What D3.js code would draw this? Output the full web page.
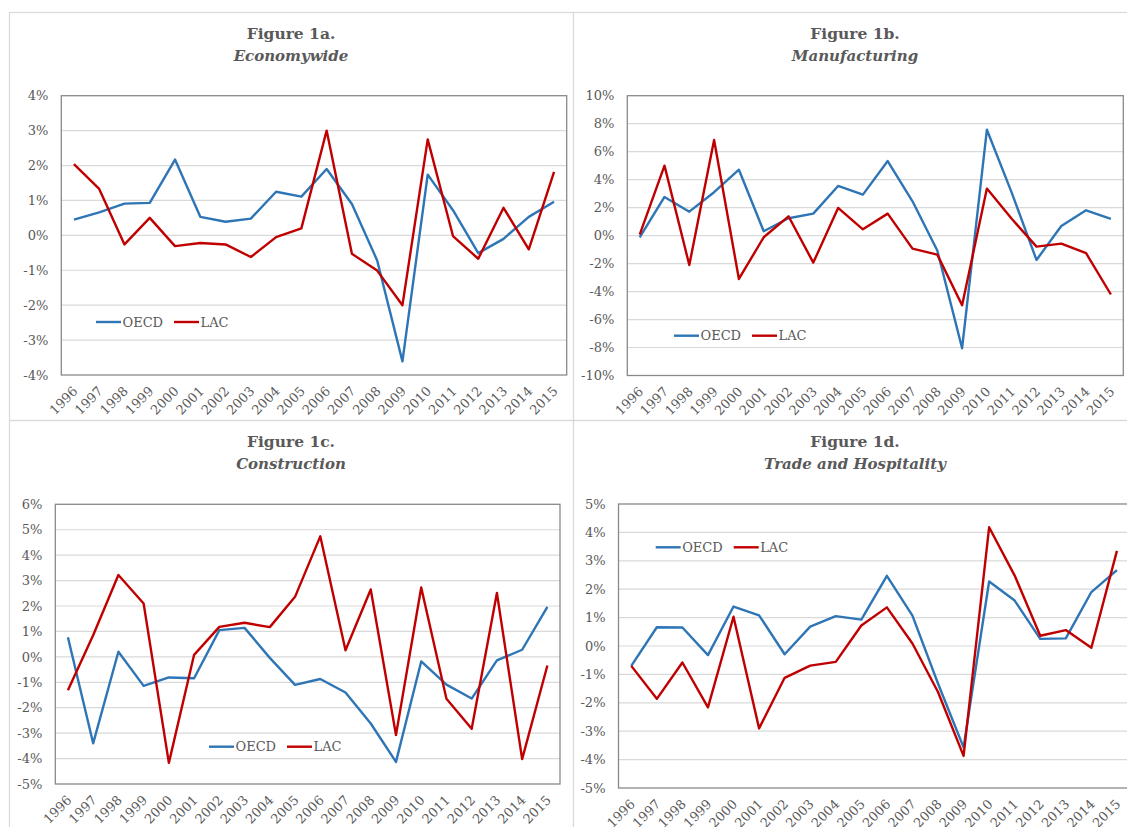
<!DOCTYPE html>
<html>
<head>
<meta charset="utf-8">
<script src="https://cdn.jsdelivr.net/npm/d3@7"></script>
<style>
  html, body { margin: 0; padding: 0; background: #fff; }
  svg { display: block; }
  text { font-family: "DejaVu Serif", "Liberation Serif", serif; fill: #595959; }
</style>
</head>
<body>
<svg id="chart" width="1127" height="827"></svg>
<script>
// Annual labour productivity growth, %, OECD vs LAC
const years = ["1996","1997","1998","1999","2000","2001","2002","2003","2004","2005",
               "2006","2007","2008","2009","2010","2011","2012","2013","2014","2015"];

const econOECD = [0.45, 0.66, 0.91, 0.93, 2.17, 0.53, 0.39, 0.48, 1.25, 1.11,
                  1.90, 0.90, -0.72, -3.61, 1.74, 0.72, -0.51, -0.10, 0.53, 0.96];
const econLAC  = [2.04, 1.33, -0.26, 0.50, -0.31, -0.22, -0.26, -0.62, -0.05, 0.20,
                  3.00, -0.53, -1.01, -2.00, 2.75, -0.02, -0.67, 0.79, -0.40, 1.82];

const manufOECD = [-0.12, 2.76, 1.71, 3.10, 4.71, 0.31, 1.24, 1.57, 3.55, 2.93,
                   5.33, 2.45, -1.07, -8.05, 7.57, 3.07, -1.74, 0.69, 1.81, 1.19];
const manufLAC  = [0.07, 5.00, -2.10, 6.83, -3.10, -0.12, 1.38, -1.93, 1.98, 0.45,
                   1.57, -0.93, -1.36, -4.98, 3.36, 1.20, -0.79, -0.57, -1.26, -4.21];

const constOECD = [0.77, -3.40, 0.20, -1.14, -0.81, -0.84, 1.05, 1.14, -0.04, -1.10,
                   -0.87, -1.40, -2.62, -4.13, -0.18, -1.09, -1.64, -0.14, 0.28, 1.97];
const constLAC  = [-1.31, 0.85, 3.22, 2.10, -4.17, 0.08, 1.18, 1.34, 1.17, 2.36,
                   4.74, 0.26, 2.65, -3.07, 2.73, -1.65, -2.83, 2.51, -4.02, -0.34];

const tradeOECD = [-0.70, 0.66, 0.65, -0.32, 1.39, 1.08, -0.29, 0.68, 1.05, 0.93,
                   2.47, 1.07, -1.32, -3.57, 2.27, 1.60, 0.25, 0.27, 1.90, 2.67];
const tradeLAC  = [-0.70, -1.86, -0.58, -2.16, 1.03, -2.90, -1.12, -0.69, -0.56, 0.72,
                   1.36, 0.09, -1.62, -3.87, 4.18, 2.48, 0.36, 0.56, -0.06, 3.35];

// y-axis tick values (%) for each panel
const ticksA = [-4, -3, -2, -1, 0, 1, 2, 3, 4];
const ticksB = [-10, -8, -6, -4, -2, 0, 2, 4, 6, 8, 10];
const ticksC = [-5, -4, -3, -2, -1, 0, 1, 2, 3, 4, 5, 6];
const ticksD = [-5, -4, -3, -2, -1, 0, 1, 2, 3, 4, 5];

const seriesNames = ["OECD", "LAC"];
const seriesColors = ["#2e75b6", "#c00000"];

const panels = [
  { title: "Figure 1a.", subtitle: "Economywide", data: [econOECD, econLAC], ticks: ticksA,
    frame: [9.5, 12.5], plot: { l: 61.3, r: 566.7, t: 95.7, b: 375 }, legend: [96, 322] },
  { title: "Figure 1b.", subtitle: "Manufacturing", data: [manufOECD, manufLAC], ticks: ticksB,
    frame: [573.5, 12.5], plot: { l: 627.3, r: 1123.3, t: 95.7, b: 375.5 }, legend: [674, 335.7] },
  { title: "Figure 1c.", subtitle: "Construction", data: [constOECD, constLAC], ticks: ticksC,
    frame: [9.5, 420.5], plot: { l: 55.3, r: 560, t: 504.3, b: 784 }, legend: [209, 746.7] },
  { title: "Figure 1d.", subtitle: "Trade and Hospitality", data: [tradeOECD, tradeLAC], ticks: ticksD,
    frame: [573.5, 420.5], plot: { l: 618.5, r: 1129.7, t: 504, b: 788 }, legend: [655.7, 547.3] }
];

const svg = d3.select("#chart");
const frameW = 564, frameH = 408;

panels.forEach(p => {
  const g = svg.append("g");

  // chart frame
  g.append("rect")
    .attr("x", p.frame[0]).attr("y", p.frame[1])
    .attr("width", frameW).attr("height", frameH)
    .attr("fill", "none").attr("stroke", "#d9d9d9").attr("stroke-width", 1.2);

  const cx = p.frame[0] + frameW / 2 - 0.5;
  g.append("text")
    .attr("x", cx).attr("y", p.frame[1] + 26)
    .attr("text-anchor", "middle")
    .style("font-size", "15.5px").style("font-weight", "bold")
    .text(p.title);
  g.append("text")
    .attr("x", cx).attr("y", p.frame[1] + 48.5)
    .attr("text-anchor", "middle")
    .style("font-size", "15px").style("font-weight", "bold").style("font-style", "italic")
    .text(p.subtitle);

  const x = d3.scalePoint().domain(years).range([p.plot.l, p.plot.r]).padding(0.5);
  const y = d3.scaleLinear()
    .domain([d3.min(p.ticks), d3.max(p.ticks)])
    .range([p.plot.b, p.plot.t]);

  // horizontal gridlines
  g.append("g").selectAll("line")
    .data(p.ticks.slice(1, -1))
    .join("line")
    .attr("x1", p.plot.l).attr("x2", p.plot.r)
    .attr("y1", d => y(d)).attr("y2", d => y(d))
    .attr("stroke", "#d9d9d9").attr("stroke-width", 1.2);

  // y axis labels
  const yAxis = d3.axisLeft(y)
    .tickValues(p.ticks)
    .tickFormat(d => `${d}%`)
    .tickSize(0).tickPadding(13);
  const ya = g.append("g")
    .attr("transform", `translate(${p.plot.l},0)`)
    .call(yAxis);
  ya.select(".domain").remove();
  ya.selectAll("text")
    .style("font-family", "'DejaVu Serif', serif")
    .style("font-size", "13px").attr("fill", "#595959");

  // x axis labels, slanted
  const xAxis = d3.axisBottom(x).tickSize(0).tickPadding(0);
  const xa = g.append("g")
    .attr("transform", `translate(0,${p.plot.b})`)
    .call(xAxis);
  xa.select(".domain").remove();
  xa.selectAll("text")
    .attr("y", 0).attr("dy", 0)
    .attr("text-anchor", "end")
    .attr("transform", "translate(4,17) rotate(-45)")
    .style("font-family", "'DejaVu Serif', serif")
    .style("font-size", "13px").attr("fill", "#595959");

  // plot area border
  g.append("rect")
    .attr("x", p.plot.l).attr("y", p.plot.t)
    .attr("width", p.plot.r - p.plot.l).attr("height", p.plot.b - p.plot.t)
    .attr("fill", "none").attr("stroke", "#898989").attr("stroke-width", 1.3);

  // series lines
  const line = d3.line()
    .x((d, i) => x(years[i]))
    .y(d => y(d));
  p.data.forEach((vals, k) => {
    g.append("path")
      .datum(vals)
      .attr("d", line)
      .attr("fill", "none")
      .attr("stroke", seriesColors[k])
      .attr("stroke-width", 2.4)
      .attr("stroke-linejoin", "round");
  });

  // legend
  const lg = g.append("g").attr("transform", `translate(${p.legend[0]},${p.legend[1]})`);
  seriesNames.forEach((name, k) => {
    const item = lg.append("g").attr("transform", `translate(${k * 78},0)`);
    item.append("line")
      .attr("x1", 0).attr("x2", 25).attr("y1", 0).attr("y2", 0)
      .attr("stroke", seriesColors[k]).attr("stroke-width", 2.4);
    item.append("text")
      .attr("x", 26.5).attr("y", 4.6)
      .style("font-size", "13px")
      .text(name);
  });
});
</script>
</body>
</html>
